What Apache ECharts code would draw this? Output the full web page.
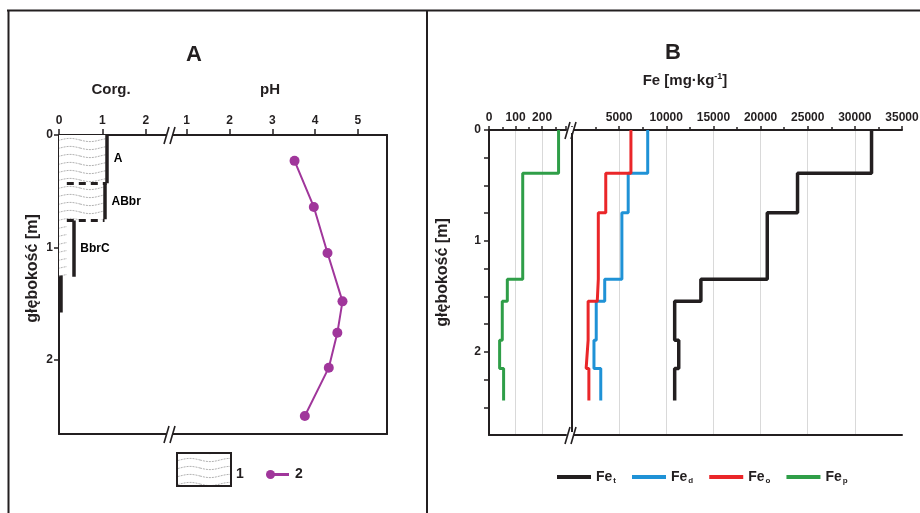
<!DOCTYPE html>
<html><head><meta charset="utf-8">
<script src="https://cdn.jsdelivr.net/npm/echarts@6/dist/echarts.min.js"></script>
<style>html,body{margin:0;padding:0;background:#fff}#c{width:920px;height:513px}</style>
</head><body><div id="c"></div>
<script>
// ---------- Panel A data ----------
const horizonNames  = ['A', 'ABbr', 'BbrC', ''];
const horizonTop    = [0, 0.43, 0.76, 1.25];
const horizonBottom = [0.43, 0.75, 1.26, 1.58];
const corgValues    = [1.1, 1.05, 0.33, 0.05];
const hatchCorg     = [1.1, 1.05, 0.18, 0];
const phDepth  = [0.23, 0.64, 1.05, 1.48, 1.76, 2.07, 2.50];
const phValues = [3.52, 3.97, 4.29, 4.64, 4.52, 4.32, 3.76];
const corgTicks  = [0, 1, 2];
const phTicks    = [1, 2, 3, 4, 5];
const depthTicksA = [0, 1, 2];
// ---------- Panel B data ----------
const layerDepths = [0, 0.39, 0.745, 1.345, 1.545, 1.895, 2.15, 2.44];
const feT = [31770, 23920, 20710, 13670, 10890, 11320, 10890];
const feD = [8030, 5960, 5290, 3470, 2570, 2330, 3050];
const feO = [6250, 3580, 2790, 2680, 1710, 1500, 1790];
const feP = [262, 127, 127, 69, 50, 40, 55];
const fePTicks = [0, 100, 200];
const feNames = ['Fe_t', 'Fe_d', 'Fe_o', 'Fe_p'];

const FONT = 'Liberation Sans, Arial, sans-serif';
const INK = '#231f20';
const PURPLE = '#a0369b';
const FE_COLORS = ['#231f20', '#1f92d6', '#ea2629', '#2f9e48'];

// wavy hatch pattern
const pc = document.createElement('canvas');
pc.width = 40; pc.height = 8;
(function(){
  const g = pc.getContext('2d');
  g.fillStyle = '#ffffff'; g.fillRect(0, 0, 40, 8);
  g.strokeStyle = '#9d9d9d'; g.lineWidth = 0.8; g.setLineDash([2, 1]);
  g.beginPath();
  for (let x = 0; x <= 40; x++) {
    const y = 4 + 1.6 * Math.sin(x / 40 * 2 * Math.PI);
    if (x === 0) g.moveTo(x, y); else g.lineTo(x, y);
  }
  g.stroke();
})();
const hatch = { image: pc, repeat: 'repeat' };

function stepPts(vals) {
  const p = [];
  vals.forEach((v, i) => { p.push([v, layerDepths[i]]); p.push([v, layerDepths[i + 1]]); });
  return p;
}

const bold12 = { fontFamily: FONT, fontWeight: 'bold', fontSize: 12, color: INK };
const axLine = { show: true, lineStyle: { color: INK, width: 2 } };
const tickStyle = { color: INK, width: 1.5 };

function topAxis(grid, extra) {
  return Object.assign({
    type: 'value', gridIndex: grid, position: 'top',
    axisLine: axLine,
    axisTick: { show: true, length: 6, lineStyle: tickStyle },
    axisLabel: Object.assign({ margin: 8 }, bold12),
    splitLine: { show: false }
  }, extra);
}
function bottomAxis(grid, min, max) {
  return { type: 'value', gridIndex: grid, position: 'bottom', min: min, max: max,
    axisLine: axLine, axisTick: { show: false }, axisLabel: { show: false }, splitLine: { show: false } };
}

// break marks
function brk(x, y) {
  return { type: 'group', children: [
    { type: 'rect', shape: { x: x - 4, y: y - 3, width: 6, height: 6 }, style: { fill: '#fff' }, z: 100 },
    { type: 'line', shape: { x1: x - 6, y1: y + 9, x2: x - 1, y2: y - 8 }, style: { stroke: INK, lineWidth: 1.6 }, z: 101 },
    { type: 'line', shape: { x1: x, y1: y + 9, x2: x + 5, y2: y - 8 }, style: { stroke: INK, lineWidth: 1.6 }, z: 101 }
  ]};
}

const GA0 = { left: 59, top: 135, width: 111, height: 299 };
const GA1 = { left: 170, top: 135, width: 217, height: 299 };
const GB0 = { left: 489, top: 130, width: 77, height: 305 };
const GB1 = { left: 572, top: 130, width: 330, height: 305 };

const corgSegs = corgValues.map((v, i) => ({ coords: [[v, horizonTop[i]], [v, horizonBottom[i]]] }));
const dashSegs = [];
for (let i = 1; i < horizonTop.length - 1; i++) {
  dashSegs.push({ coords: [[hatchCorg[2], horizonTop[i]], [corgValues[i - 1], horizonTop[i]]] });
}
const horizonLabels = [];
horizonNames.forEach((n, i) => { if (n) horizonLabels.push([corgValues[i], (horizonTop[i] + horizonBottom[i]) / 2, n]); });

const option = {
  animation: false,
  backgroundColor: '#ffffff',
  title: [
    { text: 'A', left: 194, top: 44, textAlign: 'center', padding: 0,
      textStyle: { fontFamily: FONT, fontWeight: 'bold', fontSize: 22, color: INK } },
    { text: 'B', left: 673, top: 42, textAlign: 'center', padding: 0,
      textStyle: { fontFamily: FONT, fontWeight: 'bold', fontSize: 22, color: INK } },
    { text: '{a|Fe [mg·kg}{s|-1}{a|]}', left: 685, top: 72, textAlign: 'center', padding: 0,
      textStyle: { rich: {
        a: { fontFamily: FONT, fontWeight: 'bold', fontSize: 15, color: INK },
        s: { fontFamily: FONT, fontWeight: 'bold', fontSize: 9, color: INK, padding: [0, 0, 8, 0] }
      } } }
  ],
  grid: [GA0, GA1, GB0, GB1].map(g => Object.assign({ outerBoundsMode: 'none', containLabel: false }, g)),
  xAxis: [
    topAxis(0, { min: 0, max: 2.56, name: 'Corg.', nameLocation: 'middle', nameGap: 38, nameMoveOverlap: false,
      nameTextStyle: { fontFamily: FONT, fontWeight: 'bold', fontSize: 15, color: INK, padding: [0, 7, 0, 0] },
      axisLabel: Object.assign({ margin: 8, customValues: corgTicks }, bold12),
      axisTick: { show: true, length: 6, customValues: corgTicks, lineStyle: tickStyle } }),
    topAxis(1, { min: 0.61, max: 5.68, name: 'pH', nameLocation: 'middle', nameGap: 38, nameMoveOverlap: false,
      nameTextStyle: { fontFamily: FONT, fontWeight: 'bold', fontSize: 15, color: INK, padding: [0, 17, 0, 0] },
      axisLabel: Object.assign({ margin: 8, customValues: phTicks }, bold12),
      axisTick: { show: true, length: 6, customValues: phTicks, lineStyle: tickStyle } }),
    topAxis(2, { min: 0, max: 290, interval: 100,
      axisLabel: Object.assign({ margin: 6, customValues: fePTicks, formatter: v => String(v) }, bold12),
      axisTick: { show: true, length: 4, lineStyle: tickStyle },
      minorTick: { show: true, splitNumber: 2, length: 3, lineStyle: tickStyle },
      splitLine: { show: true, showMinLine: false, showMaxLine: false, lineStyle: { color: '#d9d9d9', width: 1 } } }),
    topAxis(3, { min: 0, max: 35000, interval: 5000,
      axisLabel: Object.assign({ margin: 6, showMinLabel: false, formatter: v => v === 0 ? '' : String(v) }, bold12),
      axisTick: { show: true, length: 4, lineStyle: tickStyle },
      minorTick: { show: true, splitNumber: 2, length: 3, lineStyle: tickStyle },
      splitLine: { show: true, showMinLine: false, showMaxLine: false, lineStyle: { color: '#d9d9d9', width: 1 } } }),
    bottomAxis(0, 0, 2.56), bottomAxis(1, 0.61, 5.68), bottomAxis(2, 0, 290), bottomAxis(3, 0, 35000)
  ],
  yAxis: [
    { type: 'value', gridIndex: 0, inverse: true, min: 0, max: 2.66, position: 'left',
      axisLine: axLine, axisTick: { show: true, length: 5, customValues: depthTicksA, lineStyle: tickStyle },
      axisLabel: Object.assign({ margin: 6, customValues: depthTicksA }, bold12), splitLine: { show: false },
      name: 'głębokość [m]', nameLocation: 'middle', nameGap: 18, nameRotate: 90, nameMoveOverlap: false,
      nameTextStyle: { fontFamily: FONT, fontWeight: 'bold', fontSize: 16, color: INK, padding: [0, 0, 0, 32] } },
    { type: 'value', gridIndex: 1, inverse: true, min: 0, max: 2.66, position: 'right',
      axisLine: axLine, axisTick: { show: false }, axisLabel: { show: false }, splitLine: { show: false } },
    { type: 'value', gridIndex: 2, inverse: true, min: 0, max: 2.75, interval: 0.25, position: 'left',
      axisLine: axLine, axisTick: { show: true, length: 5, lineStyle: tickStyle },
      axisLabel: Object.assign({ margin: 8, showMaxLabel: false, formatter: v => Number.isInteger(v) ? String(v) : '' }, bold12),
      splitLine: { show: false },
      name: 'głębokość [m]', nameLocation: 'middle', nameGap: 38, nameRotate: 90, nameMoveOverlap: false,
      nameTextStyle: { fontFamily: FONT, fontWeight: 'bold', fontSize: 16, color: INK, padding: [0, 0, 0, 20] } },
    { type: 'value', gridIndex: 3, inverse: true, min: 0, max: 2.75, position: 'right',
      axisLine: axLine, axisTick: { show: false }, axisLabel: { show: false }, splitLine: { show: false } }
  ],
  legend: {
    data: feNames, left: 552, top: 465, icon: 'rect', itemWidth: 34, itemHeight: 4, itemGap: 16,
    selectedMode: false,
    formatter: n => '{a|Fe}{b|' + n.split('_')[1] + '}',
    textStyle: { rich: {
      a: { fontFamily: FONT, fontWeight: 'bold', fontSize: 14, color: INK },
      b: { fontFamily: FONT, fontWeight: 'bold', fontSize: 8, color: INK, padding: [8, 0, 0, 1] }
    } }
  },
  series: [
    { type: 'custom', name: 'hatch', xAxisIndex: 0, yAxisIndex: 0, data: [[0, 0]], silent: true, z: 1,
      renderItem: function (params, api) {
        const pts = [api.coord([0, horizonTop[0]])];
        let last = 0;
        for (let i = 0; i < hatchCorg.length; i++) {
          if (hatchCorg[i] <= 0) continue;
          pts.push(api.coord([hatchCorg[i], horizonTop[i]]));
          pts.push(api.coord([hatchCorg[i], horizonBottom[i]]));
          last = horizonBottom[i];
        }
        pts.push(api.coord([0, last]));
        return { type: 'polygon', shape: { points: pts }, style: { fill: hatch, stroke: null } };
      } },
    { type: 'lines', name: 'Corg', coordinateSystem: 'cartesian2d', xAxisIndex: 0, yAxisIndex: 0, z: 3,
      data: corgSegs, lineStyle: { color: INK, width: 3.5, opacity: 1 }, silent: true },
    { type: 'lines', name: 'horizons', coordinateSystem: 'cartesian2d', xAxisIndex: 0, yAxisIndex: 0, z: 3,
      data: dashSegs, lineStyle: { color: INK, width: 3, opacity: 1, type: [7, 5] }, silent: true },
    { type: 'scatter', name: 'labels', xAxisIndex: 0, yAxisIndex: 0, symbolSize: 0, data: horizonLabels, z: 4,
      silent: true, itemStyle: { opacity: 1 },
      label: { show: true, position: 'right', distance: 7, formatter: p => p.value[2], opacity: 1,
        fontFamily: FONT, fontWeight: 'bold', fontSize: 12, color: '#000', textBorderWidth: 0 } },
    { type: 'line', name: 'pH', xAxisIndex: 1, yAxisIndex: 1, z: 5,
      data: phValues.map((v, i) => [v, phDepth[i]]),
      symbol: 'circle', symbolSize: 10, itemStyle: { color: PURPLE }, lineStyle: { color: PURPLE, width: 2 } },
    { type: 'line', name: 'Fe_t', xAxisIndex: 3, yAxisIndex: 3, data: stepPts(feT), symbol: 'none',
      itemStyle: { color: FE_COLORS[0] }, lineStyle: { color: FE_COLORS[0], width: 3.5 } },
    { type: 'line', name: 'Fe_d', xAxisIndex: 3, yAxisIndex: 3, data: stepPts(feD), symbol: 'none',
      itemStyle: { color: FE_COLORS[1] }, lineStyle: { color: FE_COLORS[1], width: 3 } },
    { type: 'line', name: 'Fe_o', xAxisIndex: 3, yAxisIndex: 3, data: stepPts(feO), symbol: 'none',
      itemStyle: { color: FE_COLORS[2] }, lineStyle: { color: FE_COLORS[2], width: 3 } },
    { type: 'line', name: 'Fe_p', xAxisIndex: 2, yAxisIndex: 2, data: stepPts(feP), symbol: 'none',
      itemStyle: { color: FE_COLORS[3] }, lineStyle: { color: FE_COLORS[3], width: 3 } }
  ],
  graphic: [
    { type: 'line', shape: { x1: 7, y1: 10.5, x2: 920, y2: 10.5 }, style: { stroke: INK, lineWidth: 2 } },
    { type: 'line', shape: { x1: 8.5, y1: 10, x2: 8.5, y2: 513 }, style: { stroke: INK, lineWidth: 2 } },
    { type: 'line', shape: { x1: 427, y1: 10, x2: 427, y2: 513 }, style: { stroke: INK, lineWidth: 2 } },
    brk(GA1.left, GA1.top), brk(GA1.left, GA1.top + GA1.height),
    brk(GB1.left - 1, GB1.top), brk(GB1.left - 1, GB1.top + GB1.height),
    { type: 'rect', shape: { x: 177, y: 453, width: 54, height: 33 }, style: { fill: hatch, stroke: INK, lineWidth: 2 } },
    { type: 'text', x: 240, y: 474, style: { text: '1', fill: INK, font: 'bold 14px ' + FONT, align: 'center', verticalAlign: 'middle' } },
    { type: 'line', shape: { x1: 268, y1: 474.5, x2: 289, y2: 474.5 }, style: { stroke: PURPLE, lineWidth: 3 } },
    { type: 'circle', shape: { cx: 270.5, cy: 474.5, r: 4.5 }, style: { fill: PURPLE } },
    { type: 'text', x: 299, y: 474, style: { text: '2', fill: INK, font: 'bold 14px ' + FONT, align: 'center', verticalAlign: 'middle' } }
  ]
};
const chart = echarts.init(document.getElementById('c'), null, { renderer: 'canvas' });
chart.setOption(option);
</script></body></html>
